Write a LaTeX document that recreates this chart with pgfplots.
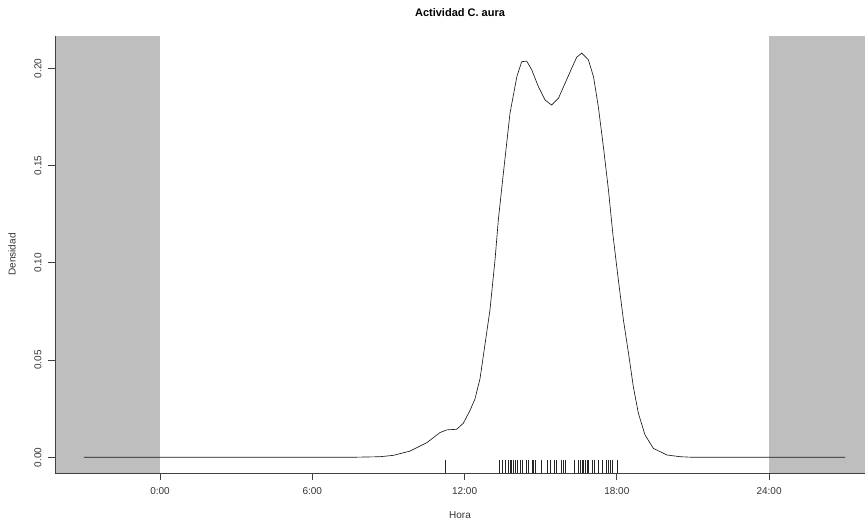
\documentclass[border=0pt]{standalone}
\usepackage{pgfplots}
\pgfplotsset{compat=1.18}
\usepackage{fontspec}
\setmainfont{Liberation Sans}
\definecolor{shade}{RGB}{190,190,190}
\begin{document}
\begin{tikzpicture}
\useasboundingbox (0,0) rectangle (865bp,525bp);
\begin{axis}[
 at={(55bp,52bp)}, anchor=south west,
 scale only axis, width=810bp, height=437bp,
 xmin=-4.14, xmax=27.78, ymin=-0.00807, ymax=0.2166,
 axis x line*=bottom, axis y line*=left,
 axis line style={black!75, line width=0.8pt, -},
 axis on top,
 tick align=outside, major tick length=7bp,
 tick style={black!75, line width=0.8pt},
 xtick={0,6,12,18,24}, xticklabels={0:00,6:00,12:00,18:00,24:00},
 ytick={0,0.05,0.10,0.15,0.20}, yticklabels={0.00,0.05,0.10,0.15,0.20},
 ticklabel style={font=\fontsize{10bp}{12bp}\selectfont, text=black!80},
 xticklabel style={anchor=north}, xticklabel shift=3.7bp,
 yticklabel style={rotate=90, anchor=south}, yticklabel shift=3bp,
 title={Actividad C. aura},
 title style={font=\fontsize{11bp}{13bp}\selectfont\bfseries, at={(axis description cs:0.5,1.0389)}, anchor=center},
 xlabel={Hora},
 xlabel style={font=\fontsize{10bp}{12bp}\selectfont, text=black!80, at={(axis description cs:0.5,-0.0961)}, anchor=center},
 ylabel={Densidad},
 ylabel style={font=\fontsize{10bp}{12bp}\selectfont, text=black!80, at={(axis description cs:-0.0531,0.5)}, anchor=center},
]
% grey night areas
\addplot[fill=shade, draw=none] coordinates {(-4.14,-0.00807) (0,-0.00807) (0,0.2166) (-4.14,0.2166)} -- cycle;
\addplot[fill=shade, draw=none] coordinates {(24,-0.00807) (27.78,-0.00807) (27.78,0.2166) (24,0.2166)} -- cycle;
% density curve
\addplot[black!90, line width=0.65pt] coordinates {
(-3,0) (7.5,0) (8.67,0.0003) (9.19,0.0010) (9.85,0.0032) (10.51,0.0075)
(11.03,0.0127) (11.30,0.0141) (11.69,0.0144) (11.95,0.0175) (12.21,0.0240)
(12.41,0.0300) (12.61,0.0405) (12.81,0.0586) (13.00,0.0757) (13.20,0.1015)
(13.33,0.1220) (13.50,0.1426) (13.79,0.1769) (14.06,0.1957) (14.25,0.2034)
(14.45,0.2037) (14.65,0.1991) (14.91,0.1905) (15.17,0.1837) (15.43,0.1811)
(15.70,0.1846) (15.96,0.1923) (16.22,0.2000) (16.42,0.2057) (16.62,0.2078)
(16.88,0.2043) (17.08,0.1957) (17.27,0.1803) (17.47,0.1597) (17.67,0.1374)
(17.85,0.1140) (18.06,0.0912) (18.26,0.0706) (18.46,0.0535) (18.65,0.0363)
(18.85,0.0226) (19.11,0.0115) (19.44,0.0046) (19.97,0.0012) (20.50,0.0003)
(21.0,0) (27,0)
};
% rug
\addplot[only marks, mark=|, mark size=6.5bp, mark options={line width=0.6pt, black!85}] coordinates {
(11.25,-0.0048) (13.37,-0.0048) (13.47,-0.0048) (13.60,-0.0048) (13.71,-0.0048)
(13.79,-0.0048) (13.86,-0.0048) (13.92,-0.0048) (13.99,-0.0048) (14.08,-0.0048)
(14.19,-0.0048) (14.29,-0.0048) (14.45,-0.0048) (14.53,-0.0048) (14.65,-0.0048)
(14.71,-0.0048) (14.78,-0.0048) (15.04,-0.0048) (15.26,-0.0048) (15.37,-0.0048)
(15.55,-0.0048) (15.61,-0.0048) (15.81,-0.0048) (15.88,-0.0048) (15.96,-0.0048)
(16.33,-0.0048) (16.50,-0.0048) (16.55,-0.0048) (16.62,-0.0048) (16.68,-0.0048)
(16.75,-0.0048) (16.82,-0.0048) (16.89,-0.0048) (17.05,-0.0048) (17.12,-0.0048)
(17.27,-0.0048) (17.41,-0.0048) (17.60,-0.0048) (17.67,-0.0048) (17.76,-0.0048)
(17.84,-0.0048) (18.00,-0.0048)
};
\end{axis}
\end{tikzpicture}
\end{document}
